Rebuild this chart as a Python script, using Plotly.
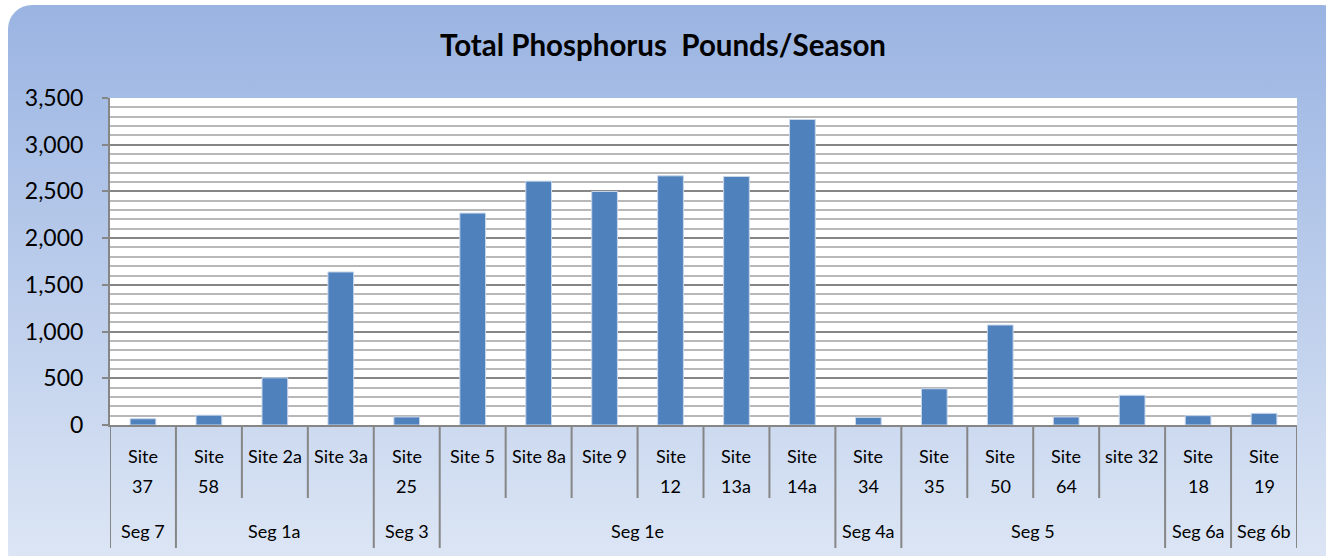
import base64
import plotly.graph_objects as go

# ---------------- data ----------------
sites = ["Site 37", "Site 58", "Site 2a", "Site 3a", "Site 25", "Site 5", "Site 8a",
         "Site 9", "Site 12", "Site 13a", "Site 14a", "Site 34", "Site 35", "Site 50",
         "Site 64", "site 32", "Site 18", "Site 19"]
site_labels = ["Site<br>37", "Site<br>58", "Site 2a", "Site 3a", "Site<br>25", "Site 5",
               "Site 8a", "Site 9", "Site<br>12", "Site<br>13a", "Site<br>14a", "Site<br>34",
               "Site<br>35", "Site<br>50", "Site<br>64", "site 32", "Site<br>18", "Site<br>19"]
segments = ["Seg 7", "Seg 1a", "Seg 1a", "Seg 1a", "Seg 3", "Seg 1e", "Seg 1e", "Seg 1e",
            "Seg 1e", "Seg 1e", "Seg 1e", "Seg 4a", "Seg 5", "Seg 5", "Seg 5", "Seg 5",
            "Seg 6a", "Seg 6b"]
phosphorus = [67, 105, 505, 1638, 86, 2268, 2610, 2500, 2667, 2660, 3270,
              80, 388, 1070, 86, 318, 100, 125]
title_text = "Total Phosphorus  Pounds/Season"

# ---------------- layout geometry ----------------
W, H = 1326, 556
L, R, T, B = 110, 29, 98, 131
pw, ph = W - L - R, H - T - B
FONT = "Lato"

svg = f"""<svg xmlns='http://www.w3.org/2000/svg' width='{W}' height='{H}' viewBox='0 0 {W} {H}'>
<defs><linearGradient id='g' x1='0' y1='0' x2='0' y2='1'>
<stop offset='0' stop-color='#9AB4E2'/><stop offset='1' stop-color='#DEE7F5'/>
</linearGradient></defs>
<rect x='8' y='5' width='{W-8+20}' height='{H-5+20}' rx='24' ry='24' fill='url(#g)'/>
<rect x='{L}' y='{T}' width='{pw}' height='{ph}' fill='#FFFFFF'/>
</svg>"""
svg_uri = "data:image/svg+xml;base64," + base64.b64encode(svg.encode()).decode()

fig = go.Figure()
fig.add_trace(go.Bar(
    x=sites, y=phosphorus, width=0.39,
    marker=dict(color="#4F81BD", line=dict(color="#C9D7EB", width=1)),
    hoverinfo="x+y", showlegend=False,
))

def py(px):
    """pixel y (from top) -> paper y"""
    return (H - B - px) / ph

shapes = []
annotations = []
n = len(sites)
# dividers between sites; longer ones at segment boundaries
for i in range(n + 1):
    seg_edge = i == 0 or i == n or segments[i] != segments[i - 1]
    shapes.append(dict(type="line", xref="x", yref="paper",
                       x0=i - 0.5, x1=i - 0.5, y0=0, y1=py(548 if seg_edge else 498),
                       line=dict(color="#868686", width=2)))
# site labels
for i, lab in enumerate(site_labels):
    parts = lab.split("<br>")
    for k, p in enumerate(parts):
        annotations.append(dict(xref="x", yref="paper", x=i, y=py(456 + 30 * k),
                                text=p, showarrow=False, xanchor="center", yanchor="middle",
                                font=dict(family=FONT, size=18, color="#000000")))
# segment labels
start = 0
for i in range(1, n + 1):
    if i == n or segments[i] != segments[start]:
        annotations.append(dict(xref="x", yref="paper", x=(start + i - 1) / 2, y=py(531),
                                text=segments[start], showarrow=False,
                                xanchor="center", yanchor="middle",
                                font=dict(family=FONT, size=18, color="#000000")))
        start = i

fig.update_layout(
    width=W, height=H,
    margin=dict(l=L, r=R, t=T, b=B, pad=0),
    paper_bgcolor="#FFFFFF", plot_bgcolor="rgba(0,0,0,0)",
    title=dict(text=f"<b>{title_text}</b>", x=0.5, xref="container", xanchor="center",
               y=1 - 46 / H, yref="container", yanchor="middle",
               font=dict(family=FONT, size=29.5, color="#000000")),
    font=dict(family=FONT, color="#000000"),
    images=[dict(source=svg_uri, xref="paper", yref="paper",
                 x=-L / pw, y=1 + T / ph, sizex=W / pw, sizey=H / ph,
                 xanchor="left", yanchor="top", sizing="stretch", layer="below")],
    shapes=shapes, annotations=annotations,
)
fig.update_xaxes(type="category", range=[-0.5, n - 0.5], showticklabels=False,
                 showgrid=False, showline=True, linecolor="#868686", linewidth=2,
                 ticks="", zeroline=False, fixedrange=True)
fig.update_yaxes(range=[0, 3500], dtick=500, tickformat=",", showgrid=True,
                 gridcolor="#868686", gridwidth=2,
                 minor=dict(dtick=100, showgrid=True, gridcolor="#B8B8B8", gridwidth=2),
                 showline=True, linecolor="#868686", linewidth=2,
                 ticks="outside", ticklen=6, tickcolor="#868686", tickwidth=2,
                 ticklabelstandoff=14, zeroline=False,
                 tickfont=dict(family=FONT, size=23, color="#000000"), fixedrange=True)

fig.write_html("out.html", config={"displayModeBar": False},
               post_script="document.body.style.margin='0';document.body.style.overflow='hidden';")
